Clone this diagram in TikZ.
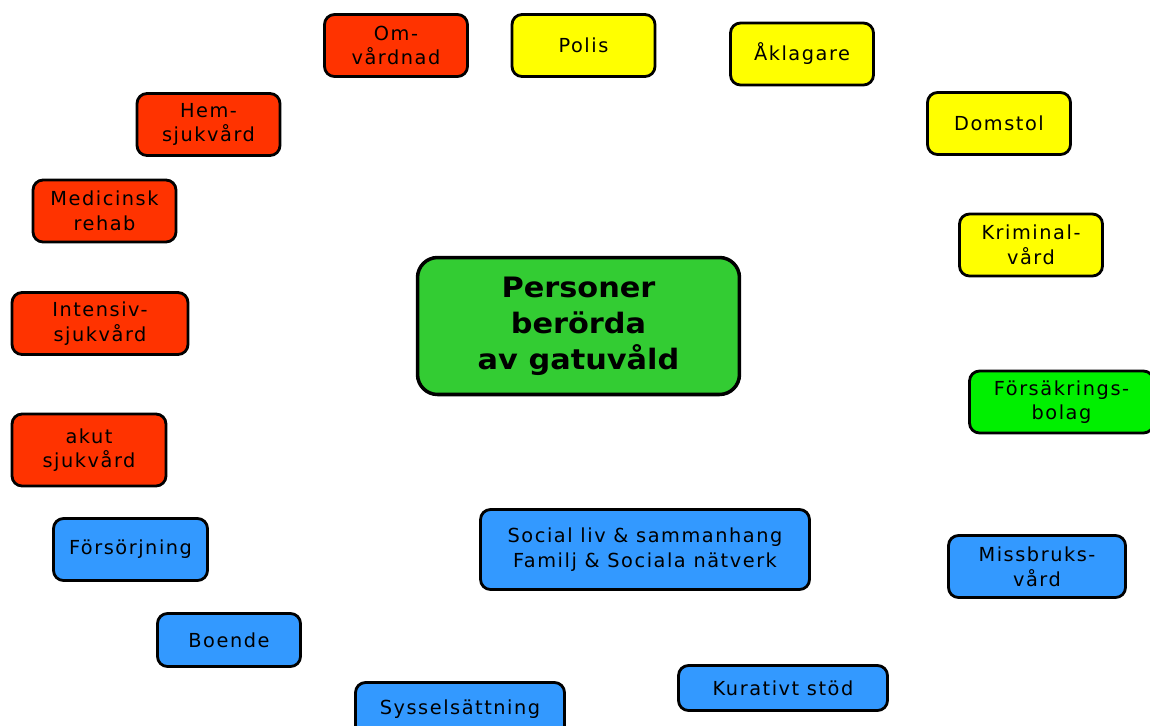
\documentclass[tikz,border=0pt]{standalone}
\usepackage{fontspec}
\setmainfont{DejaVu Sans}
\newfontfamily\boxfont{DejaVu Sans}[LetterSpace=8]
\newfontfamily\headfont{DejaVu Sans}[FakeStretch=1.08]

\definecolor{careRed}{RGB}{255,51,0}
\definecolor{lawYellow}{RGB}{255,255,0}
\definecolor{socBlue}{RGB}{51,153,255}
\definecolor{insGreen}{RGB}{0,240,0}
\definecolor{midGreen}{RGB}{51,204,51}

\tikzset{
  box/.style={draw=black, line width=1.6pt, rounded corners=0.2cm,
    align=center, inner sep=0pt, minimum width=2.86cm, minimum height=1.24cm,
    font=\boxfont\fontsize{11}{14}\selectfont},
  care/.style={box, fill=careRed},
  law/.style={box, fill=lawYellow},
  soc/.style={box, fill=socBlue}
}

\begin{document}
\begin{tikzpicture}[x=0.02cm, y=-0.02cm]

\useasboundingbox (0,0) rectangle (1150,725);

% centre
\node[box, fill=midGreen, line width=2pt, rounded corners=0.4cm,
  minimum width=6.44cm, minimum height=2.74cm,
  font=\headfont\bfseries\fontsize{16}{20.5}\selectfont]
  (personer) at (578.5,326) {Personer\\berörda\\av gatuvåld};

% vård
\node[care] (omvard) at (396,45.5) {Om-\\vårdnad};
\node[care] (hemsjuk) at (208.5,124.5) {Hem-\\sjukvård};
\node[care] (medrehab) at (104.5,211) {Medicinsk\\rehab};
\node[care, minimum width=3.52cm] (intensiv) at (100,323.5) {Intensiv-\\sjukvård};
\node[care, minimum width=3.08cm, minimum height=1.44cm] (akut) at (89,450) {akut\\sjukvård};

% rättsväsende
\node[law] (polis) at (583.5,45.5) {Polis};
\node[law] (aklagare) at (802,54) {Åklagare};
\node[law] (domstol) at (999,123.5) {Domstol};
\node[law] (kriminal) at (1031,245) {Kriminal-\\vård};

% försäkring
\node[box, fill=insGreen, minimum width=3.68cm] (forsakring) at (1061.5,402) {Försäkrings-\\bolag};

% socialt
\node[soc, minimum width=3.54cm] (missbruk) at (1037,566.5) {Missbruks-\\vård};
\node[soc, minimum width=6.58cm, minimum height=1.6cm] (socialliv) at (645,549.5)
  {Social liv \& sammanhang\\Familj \& Sociala nätverk};
\node[soc, minimum width=4.18cm, minimum height=0.9cm] (kurativ) at (783,688) {Kurativt stöd};
\node[soc, minimum width=4.18cm, minimum height=1.06cm] (syssel) at (460,709) {Sysselsättning};
\node[soc, minimum height=1.06cm] (boende) at (229,640) {Boende};
\node[soc, minimum width=3.08cm] (forsorj) at (130.5,549.5) {Försörjning};

\end{tikzpicture}
\end{document}
